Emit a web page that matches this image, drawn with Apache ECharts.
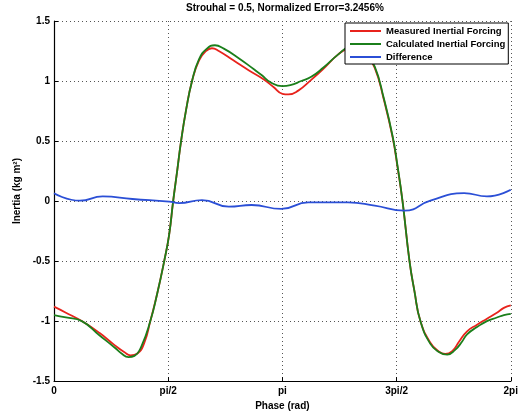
<!DOCTYPE html>
<html>
<head>
<meta charset="utf-8">
<script src="https://cdn.jsdelivr.net/npm/echarts@6/dist/echarts.min.js"></script>
<style>
  html, body { margin: 0; padding: 0; background: #fff; }
  #chart { width: 521px; height: 416px; }
</style>
</head>
<body>
<div id="chart"></div>
<script>
// Phase samples (rad) and inertia values (kg m^2) for each trace
const measuredPhase = [0, 0.164, 0.382, 0.628, 0.833, 0.970, 1.052, 1.147, 1.243, 1.325, 1.420, 1.516, 1.584, 1.639, 1.694, 1.748, 1.817, 1.899, 1.994, 2.090, 2.172, 2.267, 2.472, 2.677, 2.882, 3.019, 3.142, 3.224, 3.360, 3.538, 3.702, 3.906, 4.070, 4.180, 4.289, 4.412, 4.535, 4.658, 4.726, 4.794, 4.890, 4.958, 5.040, 5.177, 5.286, 5.382, 5.477, 5.573, 5.682, 5.819, 5.955, 6.092, 6.188, 6.283];
const measuredValues = [-0.88, -0.93, -1.00, -1.10, -1.20, -1.26, -1.285, -1.27, -1.18, -1.00, -0.77, -0.50, -0.28, 0.00, 0.25, 0.50, 0.76, 1.00, 1.17, 1.25, 1.273, 1.25, 1.17, 1.09, 1.015, 0.95, 0.893, 0.888, 0.92, 1.01, 1.10, 1.22, 1.28, 1.29, 1.22, 1.11, 0.85, 0.53, 0.28, 0.00, -0.50, -0.75, -1.00, -1.18, -1.25, -1.273, -1.25, -1.17, -1.085, -1.03, -0.98, -0.93, -0.89, -0.87];

const calculatedPhase = [0, 0.164, 0.382, 0.628, 0.833, 0.929, 1.024, 1.106, 1.202, 1.325, 1.420, 1.516, 1.584, 1.639, 1.694, 1.748, 1.817, 1.899, 1.994, 2.103, 2.213, 2.336, 2.541, 2.745, 2.855, 2.978, 3.142, 3.251, 3.401, 3.538, 3.702, 3.906, 4.070, 4.180, 4.289, 4.412, 4.535, 4.658, 4.726, 4.794, 4.890, 4.958, 5.040, 5.177, 5.300, 5.409, 5.518, 5.614, 5.682, 5.819, 5.955, 6.092, 6.188, 6.283];
const calculatedValues = [-0.95, -0.97, -1.00, -1.12, -1.22, -1.27, -1.30, -1.29, -1.21, -1.00, -0.77, -0.50, -0.28, 0.00, 0.25, 0.50, 0.76, 1.00, 1.18, 1.27, 1.298, 1.27, 1.19, 1.10, 1.05, 0.99, 0.957, 0.965, 1.00, 1.035, 1.11, 1.22, 1.29, 1.30, 1.23, 1.12, 0.86, 0.54, 0.29, 0.00, -0.50, -0.75, -1.00, -1.19, -1.26, -1.28, -1.24, -1.17, -1.11, -1.05, -1.00, -0.97, -0.95, -0.94];

const differencePhase = [0, 0.355, 0.669, 1.079, 1.584, 1.721, 2.035, 2.404, 2.718, 3.128, 3.497, 4.043, 4.412, 4.822, 5.177, 5.641, 5.955, 6.283];
const differenceValues = [0.065, 0.003, 0.039, 0.017, -0.005, -0.017, 0.008, -0.047, -0.033, -0.066, -0.011, -0.011, -0.039, -0.080, 0.003, 0.066, 0.039, 0.094];

const seriesNames = ['Measured Inertial Forcing', 'Calculated Inertial Forcing', 'Difference'];
const seriesColors = ['#e8231c', '#1b7f1b', '#2b4fd6'];

// x axis runs in multiples of pi; labels spelled the plotting-tool way
const phaseTickLabels = { 0: '0', 0.5: 'pi/2', 1: 'pi', 1.5: '3pi/2', 2: '2pi' };
const inertiaTicks = { min: -1.5, max: 1.5, step: 0.5 };

const font = 'Liberation Sans';

function toPairs(phase, values) {
  return phase.map((p, i) => [p / Math.PI, values[i]]);
}

const chart = echarts.init(document.getElementById('chart'), null, { renderer: 'canvas' });

chart.setOption({
  animation: false,
  backgroundColor: '#fff',
  grid: { left: 54, right: 7, top: 21, bottom: 33, containLabel: false },
  graphic: [{
    type: 'text',
    left: 186,
    top: 3,
    style: {
      text: 'Strouhal = 0.5, Normalized Error=3.2456%',
      font: 'bold 10px "Liberation Sans", sans-serif',
      fill: '#000'
    }
  }],
  legend: {
    data: seriesNames,
    orient: 'vertical',
    left: 345,
    top: 23,
    padding: [3, 3, 2, 5],
    icon: 'rect',
    itemWidth: 31,
    itemHeight: 2,
    itemGap: 3,
    backgroundColor: '#fff',
    borderColor: '#000',
    borderWidth: 1,
    textStyle: { fontFamily: font, fontWeight: 'bold', fontSize: 9.5, color: '#000' }
  },
  xAxis: {
    type: 'value',
    min: 0,
    max: 2,
    interval: 0.5,
    name: 'Phase (rad)',
    nameLocation: 'middle',
    nameGap: 15,
    nameTextStyle: { fontFamily: font, fontWeight: 'bold', fontSize: 10, color: '#000' },
    axisLine: { show: true, onZero: false, lineStyle: { color: '#000', width: 1.2 } },
    axisTick: { show: true, inside: true, length: 4, lineStyle: { color: '#000' } },
    axisLabel: {
      margin: 5,
      fontFamily: font, fontWeight: 'bold', fontSize: 10, color: '#000',
      formatter: v => phaseTickLabels[v] ?? ''
    },
    splitLine: { show: true, lineStyle: { color: '#555', type: [1, 3], width: 1 } }
  },
  yAxis: {
    type: 'value',
    min: inertiaTicks.min,
    max: inertiaTicks.max,
    interval: inertiaTicks.step,
    name: 'Inertia (kg m²)',
    nameLocation: 'middle',
    nameGap: 25,
    nameRotate: 90,
    nameTextStyle: { fontFamily: font, fontWeight: 'bold', fontSize: 10, color: '#000', padding: [0, 0, 0, 20] },
    axisLine: { show: true, onZero: false, lineStyle: { color: '#000', width: 1.2 } },
    axisTick: { show: true, inside: true, length: 4, lineStyle: { color: '#000' } },
    axisLabel: {
      margin: 4,
      fontFamily: font, fontWeight: 'bold', fontSize: 10, color: '#000',
      formatter: v => String(v)
    },
    splitLine: { show: true, lineStyle: { color: '#555', type: [1, 3], width: 1 } }
  },
  series: [
    [measuredPhase, measuredValues],
    [calculatedPhase, calculatedValues],
    [differencePhase, differenceValues]
  ].map(([ph, vals], i) => ({
    name: seriesNames[i],
    type: 'line',
    data: toPairs(ph, vals),
    smooth: 0.5,
    symbol: 'none',
    color: seriesColors[i],
    lineStyle: { color: seriesColors[i], width: 1.8 },
    z: 2 + i
  }))
});
</script>
</body>
</html>
